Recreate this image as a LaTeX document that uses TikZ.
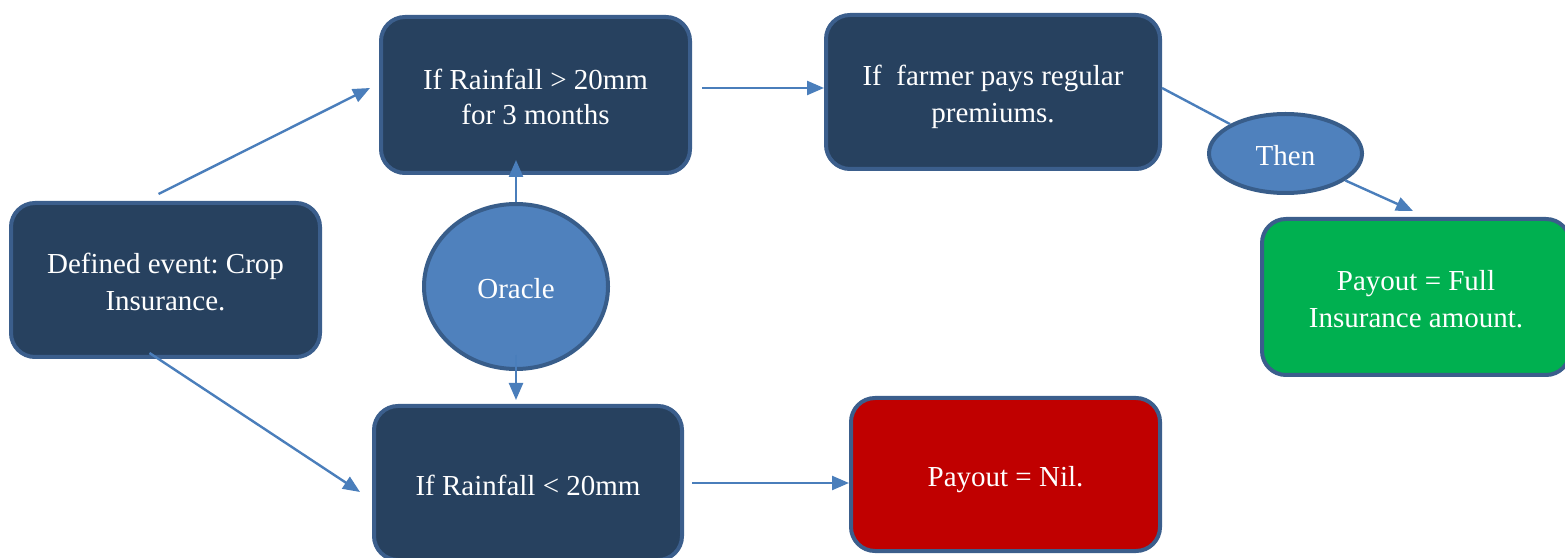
\documentclass[tikz,border=0pt]{standalone}
\usepackage{fontspec}
\setmainfont{Liberation Serif}
\usetikzlibrary{arrows.meta,calc,shapes.geometric}
\frenchspacing
\definecolor{navy}{HTML}{27415F}
\definecolor{rim}{HTML}{3B5E8C}
\definecolor{oval}{HTML}{4F81BD}
\definecolor{ovalrim}{HTML}{385D8A}
\definecolor{link}{HTML}{4A7EBB}
\definecolor{okgreen}{HTML}{00B050}
\definecolor{nored}{HTML}{C00000}
% one text line with a fixed line box (29.5pt up, 5.5pt down)
\newcommand{\txtline}[1]{#1\rule[-5.5pt]{0pt}{35pt}}
\tikzset{
  box/.style={draw=rim, line width=4pt, fill=navy, rounded corners=24pt,
    text=white, align=center, inner sep=0pt,
    font=\fontsize{29}{35}\selectfont},
  bubble/.style={ellipse, draw=ovalrim, line width=4pt, fill=oval,
    text=white, inner sep=0pt, font=\fontsize{29}{35}\selectfont},
  flow/.style={draw=link, line width=2.4pt,
    -{Triangle[length=17pt,width=14pt]}},
  plain/.style={draw=link, line width=2.4pt}
}
\begin{document}
\begin{tikzpicture}[x=1pt,y=1pt]
\useasboundingbox (0,0) rectangle (1565,557);
% decision boxes
\node[box, minimum width=309, minimum height=154] (A) at (165.5,277) {\txtline{Defined event: Crop}\\\txtline{Insurance.}};
\node[box, minimum width=309, minimum height=156] (B) at (535.5,462) {\txtline{If Rainfall > 20mm}\\\txtline{for 3 months}};
\node[box, minimum width=334, minimum height=154] (C) at (993,465) {\txtline{If~ farmer pays regular}\\\txtline{premiums.}};
\node[box, minimum width=308, minimum height=154] (D) at (528,74) {\txtline{If Rainfall < 20mm}};
\node[box, fill=nored, minimum width=309, minimum height=153] (E) at (1005.5,82.5) {\txtline{Payout = Nil.}};
\node[box, fill=okgreen, minimum width=308, minimum height=156] (F) at (1416,260) {\txtline{Payout = Full}\\\txtline{Insurance amount.}};
% ovals
\node[bubble, minimum width=184, minimum height=165] (O) at (516,270.5) {\txtline{Oracle}};
\node[bubble, minimum width=153, minimum height=79] (T) at (1285.5,403.5) {\txtline{Then}};
% connectors
\draw[flow] ([shift={(-7,7)}]A.north) -- ([shift={(-9,7)}]B.west);
\draw[flow] ([shift={(-16,6)}]A.south) -- ([shift={(-12,-9)}]D.west);
\draw[flow] ([shift={(10,7)}]B.east) -- ([shift={(0,4)}]C.west);
\draw[flow] (O.north) -- ([yshift=15]O.north |- B.south);
\draw[flow] ([yshift=16]O.south) -- ([yshift=4]O.south |- D.north);
\draw[flow] ([shift={(8,0)}]D.east) -- (E.west |- D.east);
\draw[plain] ([yshift=4]C.east) -- (T);
\draw[flow] (T) -- ([shift={(-3,6)}]F.north);
\end{tikzpicture}
\end{document}
